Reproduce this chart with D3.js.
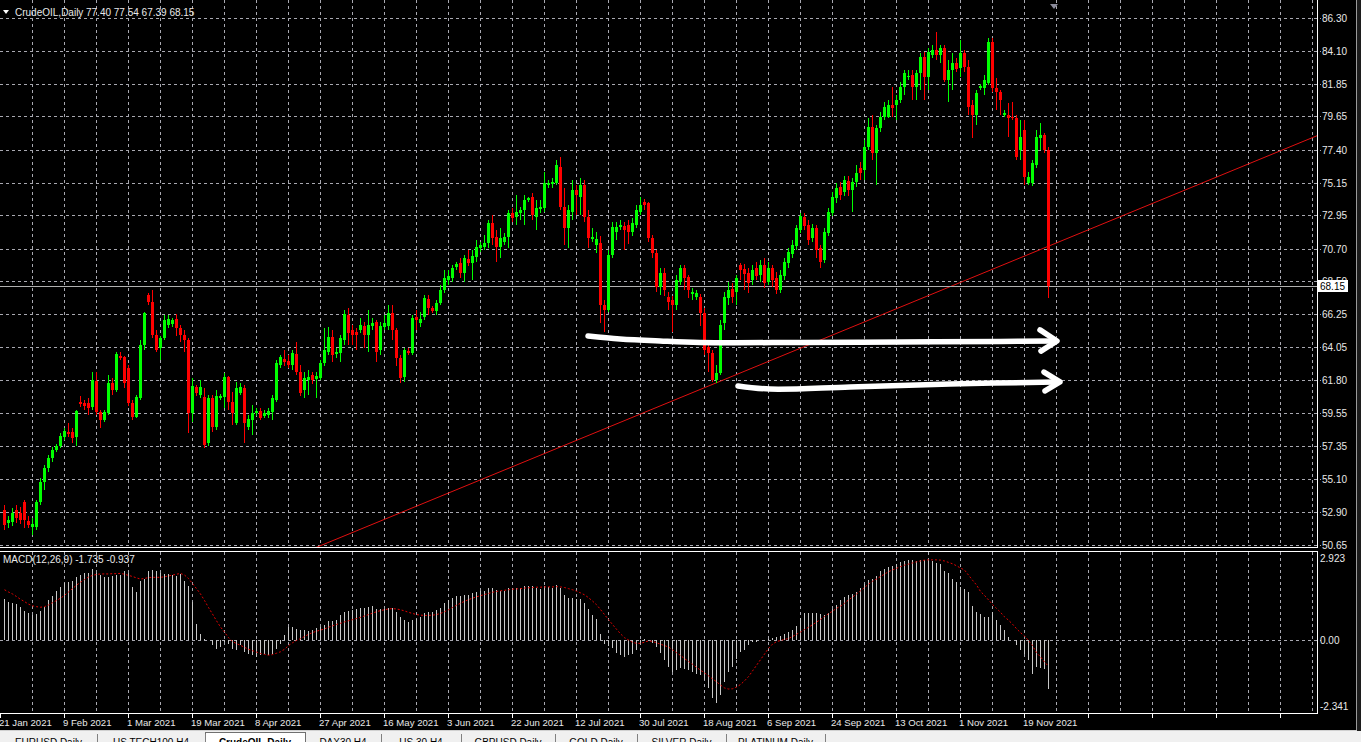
<!DOCTYPE html>
<html><head><meta charset="utf-8">
<script src="https://cdn.jsdelivr.net/npm/d3@7"></script>
<style>html,body{margin:0;padding:0;background:#000;overflow:hidden}svg{display:block}</style>
</head><body>
<svg id="c" width="1361" height="742"></svg>
<script>
const symbolName = "CrudeOIL,Daily";
const opens = [
53.02,52.14,52.20,53.02,52.81,53.56,52.27,51.87,51.87,53.56,
54.91,55.86,56.53,57.08,57.35,57.96,58.29,58.29,57.96,60.32,
60.25,60.25,59.98,61.74,59.65,59.11,59.58,61.61,61.13,63.43,
63.37,62.62,60.25,59.31,60.59,64.18,67.56,67.09,64.85,63.97,
64.65,65.53,65.60,65.94,65.33,64.85,64.52,59.58,61.34,60.80,
60.66,57.55,60.59,58.63,60.59,60.66,62.01,60.32,58.90,60.93,
61.27,58.63,59.11,59.58,59.71,59.38,59.44,59.65,60.46,62.83,
63.23,63.09,62.83,63.57,62.35,61.13,61.81,62.15,61.88,61.95,
62.96,63.70,64.72,63.57,63.64,64.52,66.21,65.19,65.06,65.19,
65.46,64.85,65.46,65.74,63.84,65.40,65.46,66.34,65.19,63.30,
62.01,63.77,63.64,66.07,65.67,66.07,67.29,66.68,66.48,67.02,
67.90,68.58,68.71,69.46,69.73,69.05,70.00,69.73,70.13,70.74,
70.81,71.08,72.43,71.49,70.81,71.15,71.49,73.11,72.84,73.11,
73.31,73.99,74.19,72.84,73.38,73.45,75.00,75.07,75.14,76.22,
73.51,72.09,73.18,74.66,74.19,75.00,72.84,71.35,70.94,71.08,
66.89,66.55,70.27,71.82,72.16,72.23,72.30,71.82,72.30,73.18,
73.85,73.78,71.42,70.40,68.10,69.05,67.43,67.22,66.89,68.44,
69.39,68.78,67.63,67.43,67.43,66.34,64.04,63.64,61.81,62.28,
65.67,67.36,67.97,67.76,69.59,69.32,69.05,68.58,69.39,68.91,
69.59,68.44,69.39,68.71,67.90,68.85,69.73,70.33,70.87,71.96,
72.84,72.30,71.42,72.09,70.74,69.93,71.76,73.11,74.12,74.87,
74.53,75.27,74.66,75.20,76.15,76.02,77.57,78.93,77.17,78.86,
79.60,79.60,80.41,80.41,80.75,81.63,82.31,82.44,81.63,82.58,
83.66,82.31,83.80,84.14,83.80,84.27,82.11,82.78,83.26,82.92,
83.93,82.98,80.41,79.74,81.56,81.56,81.90,84.68,81.56,81.29,
79.74,79.74,79.60,79.54,77.37,78.73,75.14,75.14,76.35,78.18,
78.38,77.40];
const highs = [
53.35,52.61,53.15,53.35,53.22,53.69,52.61,52.48,53.69,55.18,
56.06,56.74,57.28,57.48,58.23,58.56,58.90,58.56,59.78,60.73,
60.46,60.59,62.35,62.35,59.78,59.78,62.15,61.95,63.70,63.70,
63.43,62.83,60.46,60.80,64.52,66.41,67.70,67.90,65.19,64.79,
66.21,66.21,66.00,66.28,65.53,65.19,64.65,61.95,61.47,61.81,
61.27,60.80,60.80,61.13,60.86,62.28,62.08,61.00,61.68,61.61,
61.47,59.44,60.12,59.92,59.92,59.78,59.92,60.80,63.16,63.50,
63.84,63.50,63.84,64.38,62.83,62.35,62.49,62.35,62.35,63.16,
65.33,65.40,65.19,63.97,64.85,66.55,66.68,65.53,65.33,66.00,
65.74,66.55,66.00,65.87,65.74,66.21,66.89,66.89,65.33,63.50,
63.97,63.97,66.21,66.55,66.41,67.56,67.56,66.82,67.22,68.24,
69.25,69.25,69.59,69.79,70.06,70.27,70.61,70.61,71.28,71.15,
71.62,72.63,72.97,71.96,72.09,71.76,73.31,73.45,74.33,73.51,
74.33,74.19,74.46,73.99,73.99,75.88,75.34,75.48,76.69,76.90,
74.80,73.65,75.34,75.00,75.48,75.34,73.31,72.09,71.82,71.55,
67.22,70.61,72.50,72.50,72.63,72.50,72.63,72.77,73.65,74.19,
74.06,73.85,71.62,70.61,69.39,69.39,67.76,67.49,68.91,69.59,
69.59,68.91,68.03,67.90,67.63,66.68,64.38,63.84,62.83,65.87,
67.76,68.44,68.37,68.91,69.73,69.66,69.39,69.59,69.79,69.93,
70.06,69.79,69.59,69.12,69.25,70.06,70.74,71.28,72.30,73.11,
73.11,72.63,72.36,72.30,70.94,72.09,73.45,74.53,75.14,75.20,
75.61,75.61,75.48,76.35,76.56,78.05,79.54,79.74,79.06,79.94,
80.62,80.75,81.63,81.09,81.97,82.78,82.78,82.78,82.78,83.93,
84.00,84.27,84.47,85.35,84.47,84.47,83.46,83.93,83.60,84.81,
84.14,83.46,80.75,81.43,81.84,82.44,84.95,84.95,82.24,81.43,
80.08,80.55,80.62,79.74,79.40,79.40,75.88,76.69,78.73,79.20,
78.52,77.54];
const lows = [
51.66,51.80,51.93,52.14,52.07,51.80,51.80,51.33,51.66,53.35,
54.37,55.59,56.26,56.94,57.21,57.75,57.96,57.55,57.35,59.98,
59.78,59.44,59.78,59.44,58.56,58.97,59.44,60.80,61.00,63.16,
61.27,60.05,59.11,59.24,60.46,63.84,66.89,64.65,63.70,63.16,
64.52,65.33,65.40,64.79,64.38,63.70,58.23,58.97,60.73,60.59,
57.21,57.35,58.29,58.43,60.46,59.92,59.78,58.77,58.77,60.80,
57.55,58.43,58.09,59.38,59.11,59.24,59.24,59.11,60.32,62.62,
62.76,62.62,62.49,62.15,60.73,60.59,60.80,61.54,60.59,61.81,
62.76,63.50,63.03,63.30,63.03,64.18,64.18,64.18,63.84,64.99,
63.97,63.70,65.19,63.03,63.50,65.19,65.19,64.52,62.76,61.61,
61.68,63.50,63.50,65.19,65.40,65.87,66.21,66.34,66.21,66.89,
67.70,68.24,68.44,69.25,68.71,68.44,69.52,68.58,69.79,70.47,
70.61,70.74,70.94,69.79,70.06,70.94,70.74,72.50,72.30,72.63,
72.30,73.85,72.63,71.96,73.11,73.18,74.80,74.80,75.00,73.31,
70.94,70.74,72.63,72.97,72.97,72.50,70.74,71.15,70.40,65.67,
65.06,66.41,70.06,71.28,71.96,70.61,71.01,71.55,72.09,72.97,
73.31,71.15,70.06,67.76,67.56,67.49,66.55,65.06,66.55,68.24,
67.90,67.36,67.22,67.22,65.46,63.50,62.35,61.68,61.61,62.15,
65.19,66.89,67.02,66.89,68.58,67.90,67.70,68.24,68.58,68.44,
68.03,68.24,68.10,67.63,67.70,68.58,69.39,70.06,70.61,71.76,
71.96,70.94,71.15,70.06,69.39,69.73,71.55,72.91,73.78,73.99,
74.26,74.26,73.18,74.87,75.34,75.34,77.37,76.69,75.00,78.59,
79.40,79.54,79.60,79.40,80.55,81.09,82.11,80.75,80.75,81.43,
80.75,81.43,83.60,83.46,83.26,81.97,80.62,81.43,82.65,82.31,
82.65,79.74,78.18,79.06,81.43,81.09,81.77,81.29,80.08,79.74,
79.60,78.25,79.40,76.69,76.69,75.00,75.00,74.93,76.15,77.37,
77.17,67.39];
const closes = [
52.00,52.34,52.81,52.48,52.34,52.34,52.00,52.07,53.56,54.91,
55.86,56.53,57.08,57.35,58.02,58.36,58.16,57.89,59.71,60.19,
60.05,59.92,61.81,59.65,59.11,59.65,61.61,61.13,63.57,63.30,
61.61,60.25,59.31,60.66,64.18,66.34,67.09,64.85,63.84,64.65,
65.87,65.94,65.87,65.33,64.85,64.52,59.58,61.40,60.93,61.34,
57.41,60.59,58.63,60.73,60.73,62.01,60.32,59.58,61.27,61.34,
58.90,59.17,59.58,59.71,59.24,59.58,59.71,60.59,62.96,63.37,
63.03,62.83,63.64,62.35,60.93,61.95,62.01,61.81,62.08,62.96,
63.84,64.72,63.50,63.70,64.65,66.28,64.99,64.85,64.85,65.53,
64.85,65.53,65.67,63.70,65.46,65.67,66.34,65.19,63.30,61.95,
63.84,63.64,66.00,65.87,65.94,67.36,66.68,66.48,67.02,67.90,
68.71,68.85,69.39,69.66,69.05,70.06,69.73,70.20,70.81,70.94,
71.08,72.43,71.42,70.81,71.42,71.49,73.11,72.77,73.18,73.31,
73.99,74.12,72.97,73.45,73.51,75.14,75.14,75.20,76.35,73.51,
72.09,73.31,74.66,74.33,75.00,72.84,71.42,71.49,71.35,66.89,
66.55,70.27,72.16,72.16,72.30,71.96,71.82,72.43,73.31,73.65,
73.65,71.42,70.40,68.10,69.05,67.90,67.09,66.89,68.58,69.39,
68.71,67.90,67.76,67.70,66.34,63.84,63.64,61.81,62.28,65.53,
67.43,67.90,67.43,68.71,69.25,68.98,68.37,69.25,68.85,69.59,
68.37,69.39,68.58,67.90,68.91,69.79,70.47,70.94,72.09,72.91,
72.23,71.28,72.09,70.61,69.79,71.82,73.18,74.19,74.80,74.33,
75.34,74.66,75.20,75.81,75.81,77.57,78.93,77.17,78.86,79.60,
80.28,80.41,80.21,80.75,81.63,82.58,82.38,81.63,82.58,83.66,
82.31,84.00,84.14,83.80,84.27,82.11,82.78,83.26,82.85,83.93,
82.98,80.28,79.74,81.23,81.70,82.11,84.68,81.56,81.29,80.75,
79.87,79.54,79.54,76.90,78.25,75.54,75.54,76.49,78.25,78.38,
77.37,68.15];
const macdHist = [
1.46,1.34,1.30,1.28,1.16,1.04,0.96,0.90,0.93,1.04,
1.16,1.40,1.57,1.75,1.89,2.01,2.04,2.08,2.22,2.31,
2.36,2.37,2.51,2.39,2.31,2.22,2.22,2.25,2.31,2.31,
2.45,2.36,1.87,1.69,2.10,2.16,2.45,2.48,2.43,2.36,
2.34,2.34,2.31,2.28,2.34,2.10,1.92,1.34,0.58,0.22,
0.05,0.01,-0.19,-0.31,-0.25,-0.07,-0.13,-0.31,-0.36,-0.19,
-0.42,-0.48,-0.54,-0.60,-0.54,-0.48,-0.54,-0.48,-0.31,-0.13,
0.16,0.46,0.46,0.40,0.34,0.36,0.32,0.34,0.43,0.46,
0.52,0.67,0.67,0.72,0.87,0.99,1.04,
1.05,1.10,1.15,1.15,1.18,1.20,1.10,1.08,1.10,1.15,
1.12,1.00,0.80,0.70,0.62,0.70,0.75,0.80,0.95,1.00,
1.00,1.05,1.15,1.30,1.40,1.50,1.55,1.55,1.60,1.60,
1.65,1.70,1.72,1.75,1.85,1.85,1.78,1.75,1.75,1.85,
1.85,1.85,1.85,1.90,1.90,1.90,1.85,1.80,1.90,1.88,
1.85,1.95,1.85,1.60,1.50,1.50,1.45,1.45,1.30,1.10,
0.90,0.75,0.20,-0.15,-0.20,-0.30,-0.45,-0.55,-0.60,-0.55,
-0.50,-0.35,-0.15,0.05,0.00,
-0.10,-0.25,-0.46,-0.72,-0.95,-1.13,-1.07,-1.01,-1.04,-1.07,
-1.13,-1.20,-1.24,-1.42,-1.70,-2.05,-2.24,-1.95,-1.48,-1.13,
-0.95,-0.66,-0.42,-0.34,-0.19,-0.07,
-0.06,-0.01,0.01,0.05,0.07,0.11,0.13,0.22,0.27,0.35,
0.49,0.79,0.96,0.95,0.97,0.94,0.92,0.90,0.95,1.08,
1.24,1.42,1.54,1.60,1.63,1.69,1.85,1.98,2.14,2.16,
2.25,2.43,2.50,2.57,2.62,2.71,2.76,2.81,2.84,2.85,
2.81,2.83,2.83,2.83,2.79,2.73,2.69,2.45,2.37,2.16,
2.04,1.87,1.81,1.69,1.22,0.99,0.93,0.83,0.81,0.99,
0.72,0.52,0.34,0.11,-0.01,-0.19,-0.36,-0.48,-0.72,-1.19,
-0.97,-1.01,-1.04,-1.735];
const macdSignal = [
1.78,1.70,1.63,1.54,1.44,1.36,1.27,1.21,1.18,1.16,
1.18,1.24,1.32,1.40,1.48,1.58,1.70,1.82,1.94,2.05,
2.14,2.23,2.29,2.32,2.34,2.34,2.34,2.35,2.35,2.36,
2.33,2.29,2.25,2.20,2.16,2.18,2.21,2.22,2.22,2.22,
2.24,2.27,2.30,2.33,2.36,2.30,2.18,2.00,1.82,1.63,
1.40,1.15,0.92,0.68,0.46,0.28,0.08,-0.05,-0.13,-0.19,
-0.26,-0.33,-0.38,-0.43,-0.48,-0.51,-0.54,-0.52,-0.47,-0.42,
-0.33,-0.20,-0.10,-0.02,0.05,0.12,0.20,0.26,0.31,0.35,
0.39,0.45,0.50,0.55,0.59,0.64,0.68,
0.72,0.76,0.80,0.85,0.90,0.95,1.00,1.04,1.07,1.10,
1.11,1.10,1.07,1.03,0.98,0.94,0.90,0.88,0.87,0.87,
0.88,0.90,0.94,1.00,1.07,1.15,1.23,1.30,1.37,1.43,
1.48,1.53,1.57,1.61,1.65,1.69,1.72,1.74,1.76,1.78,
1.80,1.81,1.82,1.84,1.85,1.86,1.87,1.87,1.88,1.88,
1.88,1.89,1.88,1.86,1.82,1.78,1.73,1.67,1.60,1.50,
1.38,1.25,1.08,0.90,0.72,0.55,0.38,0.22,0.08,0.00,
-0.08,-0.12,-0.12,-0.08,-0.03,
-0.05,-0.10,-0.15,-0.20,-0.25,-0.35,-0.45,-0.55,-0.66,-0.76,
-0.86,-0.97,-1.07,-1.17,-1.27,-1.38,-1.48,-1.60,-1.70,-1.74,
-1.73,-1.67,-1.58,-1.45,-1.30,-1.10,-0.90,-0.70,-0.50,-0.30,
-0.15,-0.06,-0.02,0.02,0.05,0.12,0.20,0.28,0.37,0.45,
0.54,0.63,0.73,0.83,0.93,1.02,1.12,1.20,1.30,1.42,
1.52,1.63,1.74,1.86,1.98,2.08,2.16,2.25,2.33,2.42,
2.48,2.54,2.60,2.65,2.69,2.73,2.77,2.80,2.83,2.84,
2.84,2.84,2.83,2.80,2.75,2.70,2.63,2.55,2.48,2.30,
2.12,1.95,1.72,1.58,1.42,1.26,1.12,0.98,0.82,0.70,
0.56,0.40,0.26,0.14,-0.02,-0.20,-0.45,-0.60,-0.78,-0.937];
const priceTicks = [86.30,84.10,81.85,79.65,77.40,75.15,72.95,70.70,68.50,66.25,64.05,61.80,59.55,57.35,55.10,52.90,50.65];
const macdTicks = [2.923,0,-2.341];
const dateLabels = ["21 Jan 2021","9 Feb 2021","1 Mar 2021","19 Mar 2021","8 Apr 2021","27 Apr 2021","16 May 2021","3 Jun 2021","22 Jun 2021","12 Jul 2021","30 Jul 2021","18 Aug 2021","6 Sep 2021","24 Sep 2021","13 Oct 2021","1 Nov 2021","19 Nov 2021"];
const dateLabelBars = [-1,15,31,47,63,79,95,111,127,143,159,175,191,207,223,239,255];
const bidPrice = 68.15;
const trendAnchors = [[177,61.5],[261,70.85]];
const arrowA = [[146,64.79],[154,64.59],[164,64.45],[174,64.35],[199,64.35],[224,64.38],[249,64.42],[262.5,64.45]];
const arrowAHead = [[259,65.20],[263.25,64.45],[259.25,63.77]];
const arrowB = [[183.5,61.41],[191.5,61.20],[211.5,61.34],[236.5,61.54],[262.75,61.68]];
const arrowBHead = [[260,62.35],[264,61.68],[260.25,61.07]];
const tabNames = ["EURUSD,Daily","US TECH100,H4","CrudeOIL,Daily","DAX30,H4","US 30,H4","GBPUSD,Daily","GOLD,Daily","SILVER,Daily","PLATINUM,Daily"];
const tabEdges = [0,97,205,305,381,461,555,637,726,825];
const activeTab = 2;

const svg = d3.select("#c");
const FONT = "'Liberation Sans', Arial, sans-serif";
const mainR = 1317, mainB = 547, macdT = 551, macdB = 713;
const x = d3.scaleLinear().domain([-1, 328.25]).range([0, mainR]);
const yP = d3.scaleLinear().domain([50.65, 86.30]).range([545, 18]);
const yM = d3.scaleLinear().domain([-2.341, 2.923]).range([706, 557.5]);
const GRID = "#a8a8b0";

svg.append("rect").attr("width",1361).attr("height",742).attr("fill","#000");
const defs = svg.append("defs");
defs.append("clipPath").attr("id","mainClip").append("rect").attr("x",0).attr("y",0).attr("width",mainR).attr("height",mainB);
defs.append("clipPath").attr("id","macdClip").append("rect").attr("x",0).attr("y",macdT).attr("width",mainR).attr("height",macdB-macdT);

// vertical grid
const gridBars = d3.range(7, 328, 8);
const g = svg.append("g").attr("shape-rendering","crispEdges");
gridBars.forEach(b => {
  const gx = Math.round(x(b)) + 0.5;
  g.append("line").attr("x1",gx).attr("x2",gx).attr("y1",0).attr("y2",mainB-1)
   .attr("stroke",GRID).attr("stroke-dasharray","3,3");
  g.append("line").attr("x1",gx).attr("x2",gx).attr("y1",macdT+1).attr("y2",macdB)
   .attr("stroke",GRID).attr("stroke-dasharray","3,3");
});
// horizontal price grid + ticks
priceTicks.forEach(t => {
  const gy = Math.round(yP(t)) + 0.5;
  g.append("line").attr("x1",0).attr("x2",mainR+4).attr("y1",gy).attr("y2",gy)
   .attr("stroke",GRID).attr("stroke-dasharray","3,3");
});
// macd zero line
{ const gy = Math.round(yM(0)) + 0.5;
  g.append("line").attr("x1",0).attr("x2",mainR+4).attr("y1",gy).attr("y2",gy)
   .attr("stroke",GRID).attr("stroke-dasharray","3,3"); }

// trend line
const tSlope = (trendAnchors[1][1]-trendAnchors[0][1])/(trendAnchors[1][0]-trendAnchors[0][0]);
const tAt = b => trendAnchors[0][1] + (b - trendAnchors[0][0]) * tSlope;
svg.append("line").attr("clip-path","url(#mainClip)")
  .attr("x1",x(-1)).attr("y1",yP(tAt(-1))).attr("x2",x(328.25)).attr("y2",yP(tAt(328.25)))
  .attr("stroke","#e01010").attr("stroke-width",1);

// bid line
{ const by = Math.round(yP(bidPrice)) + 0.5;
  svg.append("line").attr("x1",0).attr("x2",mainR).attr("y1",by).attr("y2",by)
    .attr("stroke","#b0b0b0").attr("shape-rendering","crispEdges"); }

// candles
const cg = svg.append("g").attr("shape-rendering","crispEdges").attr("clip-path","url(#mainClip)");
opens.forEach((o,i) => {
  const c = closes[i], bull = c >= o;
  const col = bull ? "#00ff00" : "#ff0000";
  const cx = Math.round(x(i));
  cg.append("line").attr("x1",cx+0.5).attr("x2",cx+0.5).attr("y1",yP(highs[i])).attr("y2",yP(lows[i])).attr("stroke",col);
  const top = yP(Math.max(o,c)), bot = yP(Math.min(o,c));
  cg.append("rect").attr("x",cx-1).attr("y",top).attr("width",3).attr("height",Math.max(1,bot-top)).attr("fill",col);
});

// MACD histogram
const mg = svg.append("g").attr("shape-rendering","crispEdges").attr("clip-path","url(#macdClip)");
macdHist.forEach((v,i) => {
  const cx = Math.round(x(i)) + 0.5;
  mg.append("line").attr("x1",cx).attr("x2",cx).attr("y1",yM(0)).attr("y2",yM(v)).attr("stroke","#c8c8c8");
});
svg.append("path").attr("clip-path","url(#macdClip)")
  .attr("d", d3.line().x((d,i)=>x(i)+0.5).y(d=>yM(d))(macdSignal))
  .attr("fill","none").attr("stroke","#e00000").attr("stroke-width",1).attr("stroke-dasharray","2,2");

// arrows
const al = d3.line().x(d=>x(d[0])).y(d=>yP(d[1])).curve(d3.curveCatmullRom);
const al2 = d3.line().x(d=>x(d[0])).y(d=>yP(d[1]));
[[arrowA,arrowAHead],[arrowB,arrowBHead]].forEach(([p,h]) => {
  svg.append("path").attr("d",al(p)).attr("fill","none").attr("stroke","#fff").attr("stroke-width",5.5)
    .attr("stroke-linecap","round").attr("stroke-linejoin","round");
  svg.append("path").attr("d",al2(h)).attr("fill","none").attr("stroke","#fff").attr("stroke-width",5.5)
    .attr("stroke-linecap","round").attr("stroke-linejoin","round");
});

// borders
const bg = svg.append("g").attr("shape-rendering","crispEdges").attr("stroke","#fff");
bg.append("line").attr("x1",mainR+0.5).attr("x2",mainR+0.5).attr("y1",0).attr("y2",mainB+0.5);
bg.append("line").attr("x1",0).attr("x2",mainR+0.5).attr("y1",mainB+0.5).attr("y2",mainB+0.5);
bg.append("line").attr("x1",0).attr("x2",mainR+0.5).attr("y1",macdT+0.5).attr("y2",macdT+0.5);
bg.append("line").attr("x1",mainR+0.5).attr("x2",mainR+0.5).attr("y1",macdT).attr("y2",macdB+0.5);
bg.append("line").attr("x1",0).attr("x2",mainR+0.5).attr("y1",macdB+0.5).attr("y2",macdB+0.5);

// price axis labels
const tg = svg.append("g").attr("font-family",FONT).attr("font-size","10px").attr("fill","#e8e8e8");
priceTicks.forEach(t => {
  if (Math.abs(yP(t) - yP(bidPrice)) < 7) {
    // partially hidden behind the bid label, as in the terminal
    tg.append("text").attr("x",1322).attr("y",yP(t)+4).attr("clip-path","url(#hiddenTick)").text(t.toFixed(2));
  } else {
    tg.append("text").attr("x",1322).attr("y",yP(t)+4).text(t.toFixed(2));
  }
});
defs.append("clipPath").attr("id","hiddenTick").append("rect")
  .attr("x",1318).attr("y",0).attr("width",40).attr("height",Math.round(yP(bidPrice))-6);
// bid label
{ const by = yP(bidPrice);
  svg.append("rect").attr("x",1318).attr("y",Math.round(by)-6).attr("width",30).attr("height",12).attr("fill","#fff");
  svg.append("text").attr("x",1320).attr("y",by+4).attr("font-family",FONT).attr("font-size","10px").attr("fill","#000").text(bidPrice.toFixed(2)); }
// macd labels
macdTicks.forEach(t => {
  tg.append("text").attr("x",1320).attr("y",yM(t)+4).text(t === 0 ? "0.00" : t.toFixed(3));
});
// time axis
const ag = svg.append("g").attr("shape-rendering","crispEdges");
d3.range(-1, 328, 16).forEach(b => {
  const tx = Math.round(x(b)) + 0.5;
  ag.append("line").attr("x1",tx).attr("x2",tx).attr("y1",macdB).attr("y2",macdB+5).attr("stroke","#fff");
});
const dg = svg.append("g").attr("font-family",FONT).attr("font-size","9.6px").attr("fill","#e8e8e8");
dateLabels.forEach((d,k) => {
  dg.append("text").attr("x",x(dateLabelBars[k])-1).attr("y",726).text(d);
});

// titles
svg.append("path").attr("d","M3,10 L9,10 L6,14 Z").attr("fill","#fff");
tg.append("text").attr("x",15).attr("y",16).text(symbolName);
tg.append("text").attr("x",86).attr("y",16)
  .text([opens[261],highs[261],lows[261],closes[261]].map(v=>v.toFixed(2)).join(" "));
tg.append("text").attr("x",3).attr("y",563)
  .text("MACD(12,26,9) " + macdHist[261].toFixed(3) + " " + macdSignal[261].toFixed(3));
// shift marker
svg.append("path").attr("d",`M${x(261.5)},4 L${x(263.5)},4 L${x(262.5)},9 Z`).attr("fill","#8a8a9a");

// window frame right & bottom
svg.append("rect").attr("x",1356).attr("y",0).attr("width",5).attr("height",731).attr("fill","#1c1c1c");
svg.append("line").attr("x1",1356.5).attr("x2",1356.5).attr("y1",0).attr("y2",731).attr("stroke","#9a9a9a").attr("shape-rendering","crispEdges");
svg.append("line").attr("x1",0).attr("x2",1357).attr("y1",730.5).attr("y2",730.5).attr("stroke","#d0d0d0").attr("shape-rendering","crispEdges");

// tab bar (only the upper part of the tab captions is inside the window, as in the screenshot)
const tb = svg.append("g").attr("font-family",FONT).attr("font-size","10px");
tb.append("rect").attr("x",0).attr("y",731).attr("width",1361).attr("height",11).attr("fill","#f0f0f0");
tb.append("rect").attr("x",tabEdges[activeTab]).attr("y",732).attr("width",tabEdges[activeTab+1]-tabEdges[activeTab]).attr("height",10)
  .attr("fill","#fff").attr("stroke","#707070").attr("shape-rendering","crispEdges");
tabNames.forEach((n,k) => {
  const x0 = tabEdges[k], x1 = tabEdges[k+1];
  if (k !== activeTab) tb.append("line").attr("x1",x1+0.5).attr("x2",x1+0.5).attr("y1",734).attr("y2",742).attr("stroke","#808080").attr("shape-rendering","crispEdges");
  tb.append("text").attr("x",(x0+x1)/2).attr("y",746).attr("text-anchor","middle")
    .attr("font-weight", k===activeTab ? "bold" : "normal").attr("fill","#000").text(n);
});
</script>
</body></html>
